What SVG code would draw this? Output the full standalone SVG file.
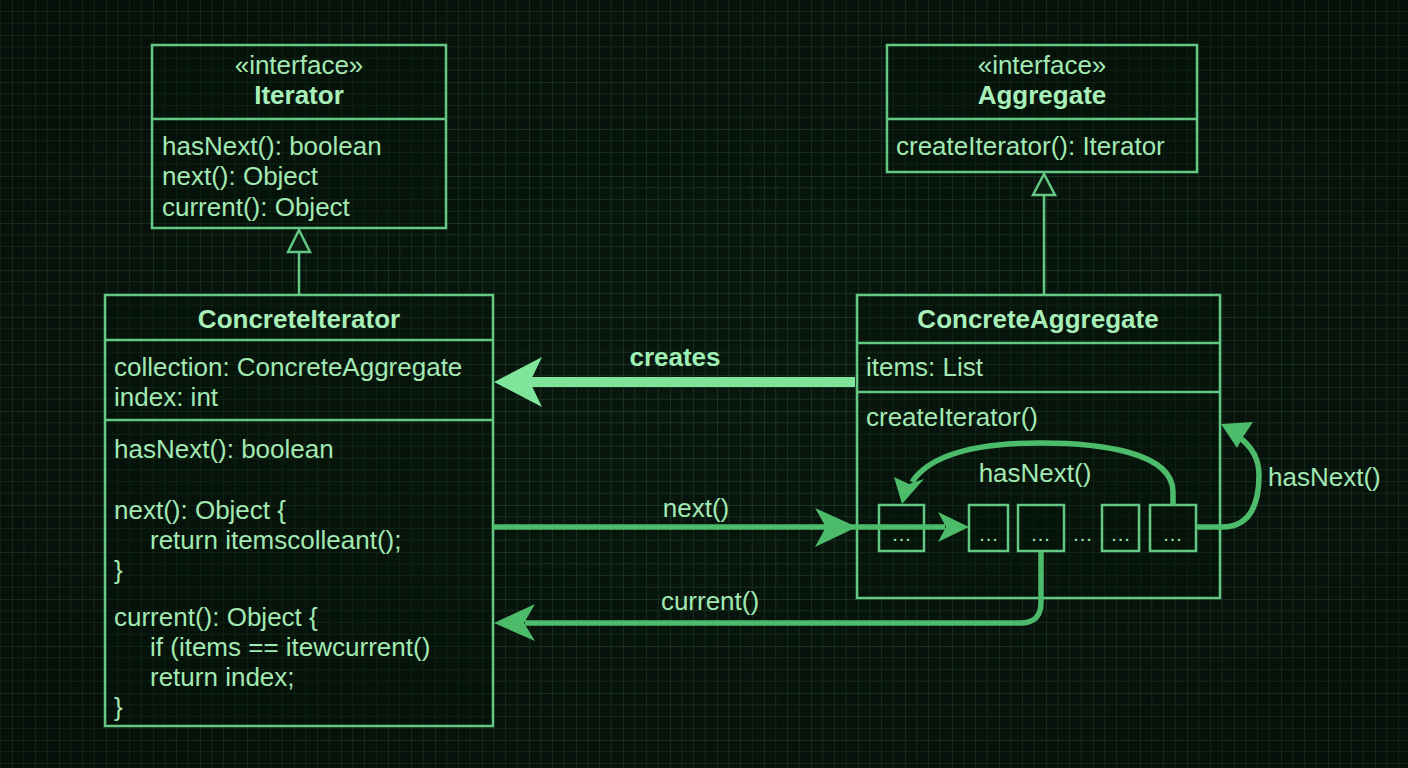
<svg xmlns="http://www.w3.org/2000/svg" width="1408" height="768" viewBox="0 0 1408 768">
  <defs>
    <pattern id="grid" x="12" y="35" width="47" height="47" patternUnits="userSpaceOnUse">
      <path d="M11.75 0V47M23.5 0V47M35.25 0V47M0 11.75H47M0 23.5H47M0 35.25H47" stroke="#17331f" stroke-width="1" fill="none"/>
      <path d="M0 0V47M0 0H47" stroke="#21432b" stroke-width="1.3" fill="none"/>
    </pattern>
    <radialGradient id="vig" cx="50%" cy="50%" r="75%">
      <stop offset="0" stop-color="#000" stop-opacity="0"/>
      <stop offset="1" stop-color="#000" stop-opacity="0.35"/>
    </radialGradient>
  </defs>
  <style>
    .box { fill: #061309; fill-opacity: 0.35; stroke: #63c884; stroke-width: 2.5; }
    .div { stroke: #63c884; stroke-width: 2.5; }
    .t { font-family: "Liberation Sans", Arial, sans-serif; font-size: 26px; fill: #a3e9b3; }
    .b { font-family: "Liberation Sans", Arial, sans-serif; font-size: 26px; font-weight: bold; fill: #a8efb9; }
    .c { text-anchor: middle; }
    .dots { font-family: "Liberation Sans", Arial, sans-serif; font-size: 20px; fill: #a3e9b3; text-anchor: middle; letter-spacing: 1px; }
    .gen { fill: #0a1c10; stroke: #63c884; stroke-width: 2.5; }
    .conn { fill: none; stroke: #4cbb6a; stroke-width: 5.5; }
    .head { fill: #4cbb6a; }
  </style>
  <rect width="1408" height="768" fill="#08170e"/>
  <rect width="1408" height="768" fill="url(#grid)"/>
  <rect width="1408" height="768" fill="url(#vig)"/>

  <g id="iterator">
    <rect class="box" x="152" y="45" width="294" height="183"/>
    <line class="div" x1="152" y1="119" x2="446" y2="119"/>
    <text class="t c" x="299" y="74">«interface»</text>
    <text class="b c" x="299" y="104">Iterator</text>
    <text class="t" x="162" y="155">hasNext(): boolean</text>
    <text class="t" x="162" y="185">next(): Object</text>
    <text class="t" x="162" y="216">current(): Object</text>
  </g>

  <g id="aggregate">
    <rect class="box" x="887" y="45" width="310" height="127"/>
    <line class="div" x1="887" y1="119" x2="1197" y2="119"/>
    <text class="t c" x="1042" y="74">«interface»</text>
    <text class="b c" x="1042" y="104">Aggregate</text>
    <text class="t" x="896" y="155">createIterator(): Iterator</text>
  </g>

  <g id="concrete-iterator">
    <rect class="box" x="105" y="295" width="388" height="431"/>
    <line class="div" x1="105" y1="340" x2="493" y2="340"/>
    <line class="div" x1="105" y1="420" x2="493" y2="420"/>
    <text class="b c" x="299" y="328">ConcreteIterator</text>
    <text class="t" x="114" y="376">collection: ConcreteAggregate</text>
    <text class="t" x="114" y="406">index: int</text>
    <text class="t" x="114" y="458">hasNext(): boolean</text>
    <text class="t" x="114" y="519">next(): Object {</text>
    <text class="t" x="150" y="549">return itemscolleant();</text>
    <text class="t" x="114" y="579">}</text>
    <text class="t" x="114" y="626">current(): Object {</text>
    <text class="t" x="150" y="656">if (items == itewcurrent()</text>
    <text class="t" x="150" y="686">return index;</text>
    <text class="t" x="114" y="716">}</text>
  </g>

  <g id="concrete-aggregate">
    <rect class="box" x="857" y="295" width="363" height="303"/>
    <line class="div" x1="857" y1="343" x2="1220" y2="343"/>
    <line class="div" x1="857" y1="392" x2="1220" y2="392"/>
    <text class="b c" x="1038" y="328">ConcreteAggregate</text>
    <text class="t" x="866" y="376">items: List</text>
    <text class="t" x="866" y="426">createIterator()</text>
  </g>

  <g id="items">
    <rect class="box" x="879" y="505" width="45" height="46"/>
    <rect class="box" x="969" y="505" width="39" height="46"/>
    <rect class="box" x="1018" y="505" width="46" height="46"/>
    <rect class="box" x="1102" y="505" width="37" height="46"/>
    <rect class="box" x="1150" y="505" width="46" height="46"/>
    <text class="dots" x="902" y="541">...</text>
    <text class="dots" x="989" y="541">...</text>
    <text class="dots" x="1041" y="541">...</text>
    <text class="dots" x="1083" y="541">...</text>
    <text class="dots" x="1121" y="541">...</text>
    <text class="dots" x="1173" y="541">...</text>
  </g>

  <g id="connectors">
    <!-- generalization Iterator -->
    <line x1="299" y1="252" x2="299" y2="295" class="div"/>
    <polygon class="gen" points="299,230 288,252 310,252"/>
    <!-- generalization Aggregate -->
    <line x1="1044" y1="195" x2="1044" y2="295" class="div"/>
    <polygon class="gen" points="1044,174 1033,195 1055,195"/>
    <!-- creates -->
    <line x1="855" y1="382" x2="530" y2="382" stroke="#7ee59a" stroke-width="10"/>
    <polygon fill="#7ee59a" points="494,382 542,357 530,382 542,407"/>
    <text class="b c" x="675" y="366" style="fill:#9ff0b5">creates</text>
    <!-- next() -->
    <line x1="493" y1="527" x2="945" y2="527" class="conn"/>
    <polygon class="head" points="857,527 815,508 826,527 815,547"/>
    <polygon class="head" points="969,527 938,512 946,527 938,542"/>
    <text class="t c" x="696" y="517">next()</text>
    <!-- current() -->
    <path class="conn" d="M1041 552 L1041 602 C1041 616 1035 623 1020 623 L525 623"/>
    <polygon class="head" points="494,623 535,604 524,623 535,641"/>
    <text class="t c" x="710" y="610">current()</text>
    <!-- hasNext() loop inside -->
    <path class="conn" d="M1173 505 L1173 492 C1173 452 1100 443 1040 443 C975 443 930 455 912 482"/>
    <polygon class="head" points="902,504 894,477 909,484 924,479"/>
    <text class="t c" x="1035" y="482">hasNext()</text>
    <!-- hasNext() right -->
    <path class="conn" d="M1196 527 L1222 527 C1250 527 1259 505 1259 475 C1259 458 1252 447 1240 438"/>
    <polygon class="head" points="1221,424 1253,422 1243,437 1237,448"/>
    <text class="t" x="1268" y="486">hasNext()</text>
  </g>
</svg>
